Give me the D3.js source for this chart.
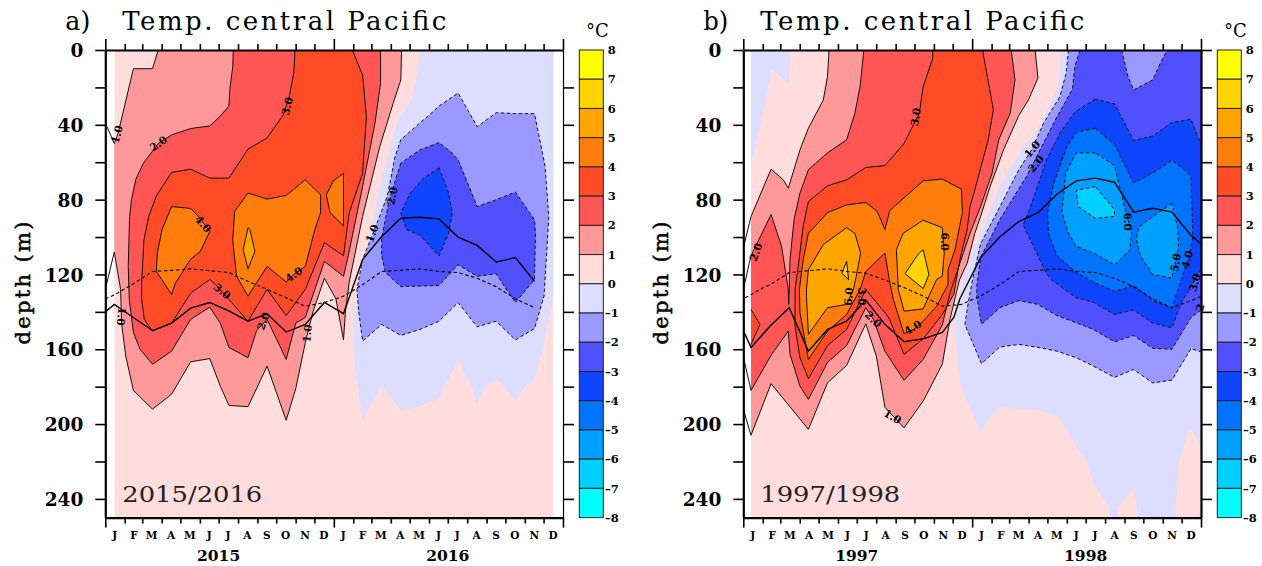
<!DOCTYPE html>
<html><head><meta charset="utf-8">
<script src="https://cdn.jsdelivr.net/npm/d3@7"></script>
<style>html,body{margin:0;padding:0;background:#fff}svg{display:block}</style>
</head><body><svg id="c" width="1262" height="566"></svg>
<script>
// Isotherm outlines: [month index (0 = mid Jan of first year), depth in m]
const monthLetters = ["J","F","M","A","M","J","J","A","S","O","N","D"];
const depthTicks = [0,20,40,60,80,100,120,140,160,180,200,220,240];
const colorLevels = [-8,-7,-6,-5,-4,-3,-2,-1,0,1,2,3,4,5,6,7,8];
const bandColors = ["#00FFFF","#00D0FF","#00A0FF","#0074FF","#0F45FF","#5050FF","#9999FF","#DDDDFF","#FFDDDD","#FF9999","#FF5555","#FF4B26","#FF7D0D","#FFA500","#FFD400","#FFFF00"];

// Panel a (2015/2016)
const aThermocline = [[-0.47,140],[0,136],[1,143],[2,150],[3,146],[4,138],[5,135],[6,139.5],[7,145],[8,141],[9,150.8],[10,146.7],[11,135],[12,141],[13,112],[14,99.7],[15,89.9],[16,89.4],[17,90.3],[18,100],[19,104.5],[20,113.4],[21,111],[22,123.7]];
const aClimatology = [[-0.47,133],[0,131],[1,125],[2,118.4],[3,117.8],[4,117],[5,118],[6,119],[7,123.7],[8,128],[9,132.5],[10,137],[11,135],[12,131.6],[13,125.5],[14,118.4],[15,117.8],[16,117],[17,118.4],[18,119],[19,122],[20,126.6],[21,133],[22,137.8]];
const aWarm1 = [[2.3,0],[2,10],[1,10],[0.2,44.5],[0,50],[-0.47,39],[-0.47,128],[0,108],[0.33,128],[0.38,146],[0.6,163.6],[1,182],[2,192],[3,184],[4,166.7],[5,165],[5.55,179.7],[6,190],[7,190.7],[8,169],[9,198],[9.5,181],[10,156.5],[10.4,140],[11,122],[11.6,133],[12,155],[12.1,140],[12.3,124],[13,89],[13.9,51.6],[14.6,28.5],[15,16],[15.04,0]];
const aWarm2 = [[6.23,0],[6.2,9],[6.05,21],[6,30],[5.53,35.6],[5,40.6],[4,42],[3,45.4],[2.3,50],[1.52,60.5],[1.13,69],[0.9,80],[0.8,89],[0.73,115.7],[0.78,133],[1,151],[1.35,160],[2,168],[3,161],[4,144],[5,137.5],[5.55,146],[6,159],[7,164.5],[7.45,150],[8,144],[9,165.4],[9.5,146],[10,143],[11,113],[12,121],[12.25,110],[12.6,92.6],[13,73],[13.65,39],[13.94,18],[13.94,0]];
const aWarm3 = [[9.46,0],[9.4,12],[9.16,25],[8.85,34.7],[8,47],[7,53],[6,68.5],[5,68.5],[4,63.7],[3,65.5],[2.2,78],[1.8,89],[1.55,101.5],[1.43,124.6],[1.43,133.4],[1.57,144],[2,150.3],[3,146],[4,130],[5,122.7],[5.3,125.4],[6,133.4],[7,145],[8,128],[9,142],[10,128],[11,103],[12,110],[12.3,87],[13,66],[13.2,35.6],[13,13.4],[12.46,0]];
const aWarm4Left = [[3,83.7],[4,84.7],[4.4,89],[5,97],[4.5,107.7],[4,111.8],[3.2,124.6],[3,130.7],[2.2,118.4],[2.25,108.6],[2.5,96]];
const aWarm4Mid = [[7,76.5],[8,79.7],[9,77.8],[10,69.4],[10.8,77.4],[10.8,87],[10.5,96],[10,115.7],[9.4,120],[9,124],[8,115.7],[7,131.6],[6.4,121],[6.2,101.5],[6.3,86.3]];
const aWarm4Right = [[11.1,77.4],[11.47,70],[12,66],[12,94],[11.3,87]];
const aWarm5 = [[7,95],[7.1,96],[7.36,107.7],[7,117],[6.75,106.7]];
const aCold0 = [[16,0],[15.9,10.7],[15.55,26.7],[14.9,36.5],[14.72,41],[14,69],[13.4,98],[12.8,123],[12.5,145.8],[12.6,170.8],[13,197.5],[14,179.7],[15,193],[16,190.4],[17,186.4],[17.35,178],[18,166],[18.7,179.7],[19,189.5],[19.4,180.5],[20,176],[20.5,180.5],[21,187.7],[21.5,180],[22,176],[22.4,161],[23,131.6],[23,0]];
const aCold1 = [[12.8,140],[13,155.6],[14,146.7],[15,152.6],[16,149.4],[17,145],[18,135],[19,148],[20,145],[21,155],[22,148.9],[22.5,131.6],[22.75,89],[22.55,62],[22,34],[21,34],[20,33.5],[19,41],[18,23],[17,30],[16.5,34.7],[16,39],[15,48],[14.7,57],[14.3,78],[13.7,94],[13,112],[12.7,128]];
const aCold2 = [[15,60.5],[14.4,80],[14,100.6],[14,110],[14.2,119],[15,126.5],[17,125.9],[18,114.8],[19,121],[20,119.6],[20.4,126],[21,135],[22,122.7],[22.05,98],[22,90.8],[21,76],[20,80],[19,83.7],[18,58.7],[17.6,54.3],[17,49.5],[16,53.4]];
const aCold3 = [[17,63],[16.2,68.5],[15.5,76.5],[15,87],[15.3,96],[16,99],[17,110],[17.5,98],[17.7,87],[17.5,76.5]];
const aLabels = [[0.14,45,"1.0",-75],[2.3,50,"2.0",-35],[9.05,30,"3.0",-75],[4.65,93,"4.0",50],[9.4,120,"4.0",-35],[5.65,129,"3.0",40],[7.8,145,"2.0",-70],[10.1,151.5,"1.0",-85],[0.37,142.5,"1.0",95],[14.55,78,"2.0",-80],[13.5,98,"1.0",-70]];

// Panel b (1997/1998)
const bThermocline = [[-0.4,150],[0,159],[1,147.6],[2,137.8],[3,161],[4,149.4],[5,145],[6,133.7],[7,146.7],[8,156],[9,154.4],[10,151],[10.6,143],[10.92,133],[12,111],[13,100],[14,91.7],[15,87],[16,77],[17,70],[18,68.5],[19,70.7],[20,86.7],[21,84.6],[22,86.7],[23,99],[23.56,104]];
const bClimatology = [[-0.3,132.5],[0.65,127],[1,125.5],[2,119],[3,118],[4,117],[5,118.4],[6,119.3],[7,123],[8,127],[9,131.6],[10,137],[11,136],[12,131.6],[13,125.5],[14,118.4],[15,117.8],[16,117],[17,118.4],[18,119],[19,122],[20,126.6],[21,133],[22,137.8],[23,134],[23.56,131.6]];
const bCoolCorner = [[0,0],[2.09,0],[1.95,17.8],[1.08,10.3],[0.73,28.5],[0,61.4]];
const bWarm1 = [[4.08,0],[4,14],[3.78,26.7],[3,41.8],[2.56,53.4],[1.95,73.9],[1.69,69.4],[1.05,63.7],[0,89],[-0.4,106],[-0.4,192],[0,206],[1.05,178.4],[3,202.8],[4,177.9],[5,168.6],[6,146.4],[6.55,163.6],[7,191],[8,202],[9,187.7],[10,168],[10.4,144],[10.9,122.8],[11.3,114],[11.7,98],[12,89],[12.5,73],[13.2,53.4],[14,35],[14.5,26.7],[15,15],[14.85,0]];
const bWarm2 = [[5.9,0],[5.7,19.6],[5.43,33.8],[5,48],[4,55],[3,64],[2.56,76.5],[2.25,90.8],[2.04,112],[2,128],[1.97,136],[1.95,128],[1.6,105],[1.05,88],[0,110],[-0.4,128],[-0.4,164],[0,182],[1.08,162.7],[1.95,150.3],[2.04,162.7],[2.56,179.7],[3,186.8],[4,167],[5,158],[6,137.8],[6.4,144],[7,161],[8,176.6],[9,165.4],[10,147],[10.4,130],[10.92,114],[11.45,98],[12,83.7],[12.6,66],[12.95,48],[13.55,33.8],[13.8,16],[13.6,0]];
const bWarm3 = [[9.5,0],[9.5,4.5],[9,19.6],[8.8,33.8],[8.4,41.8],[8,50],[7,61.8],[6,62.8],[5,69.4],[4,72.6],[3,81],[2.73,94],[2.47,115.7],[2.3,128],[2.3,147.6],[2.56,164.5],[3,175.7],[4,158],[5,149.4],[6,128],[7.2,143],[8,162.7],[9,154.4],[10,141.4],[10.6,130.7],[10.92,112],[11.3,96],[11.45,83.7],[11.7,74.8],[12.4,48],[12.67,32],[12.1,0]];
const bWarm3Edge = [[0,138.7],[0.47,146.7],[0,157.4]];
const bWarm4 = [[3,98],[4,87],[5,82.8],[6,81.5],[6.6,86.3],[7,96],[7.25,86],[8,79],[9,70],[10,69],[11,74.4],[11.05,87],[10.66,106.8],[10.3,117.5],[10.3,125.4],[9.7,137],[9,145],[8.5,149.4],[8,151.7],[7.44,133.4],[7.23,122.7],[7,108.6],[6,118.4],[5.7,128],[5,141.4],[4,150.3],[3,165.4],[2.56,140.5],[2.53,128],[2.73,112]];
const bWarm5Left = [[5,95],[5.43,98],[5.73,108.6],[5.5,121],[5.35,128],[5,136],[4,137.8],[3,152],[2.9,131.6],[2.9,128],[3,117.5],[3.78,104]];
const bWarm5Right = [[9,91],[10,95],[10.1,108.6],[10,121],[9.7,122.7],[9,138.4],[8,139.6],[7.7,128],[7.6,106.8],[7.95,98]];
const bWarm6Left = [[5,113],[5.1,122.8],[4.75,119.3]];
const bWarm6Right = [[9,106.8],[9.3,120],[9,127.6],[8.05,119.6],[8.75,109]];
const bCold0 = [[16.2,0],[16.1,17.8],[15.2,39],[14.25,51.6],[13,73],[12,98],[11.27,115.7],[10.66,140],[10.78,165.4],[11,181.4],[12,204.6],[12.3,199],[13,191],[14,191.8],[15,192.6],[16,196],[16.4,201],[17,212.6],[17.55,219.7],[17.9,232],[18.7,243.7],[18.75,250],[19.16,250],[19.16,244.6],[20,234.3],[20.25,250],[22.2,250],[22.2,243.7],[22.37,219.7],[22.95,202],[23.56,211.7],[23.56,245.5],[23.2,250],[23.56,250],[23.56,0]];
const bCold1 = [[16.6,0],[16.47,12.5],[16.15,24.9],[15.3,39],[14.67,53.4],[14,64],[13,84],[12,103.6],[11.58,122.8],[11.36,135],[11.18,146.7],[12.05,167.7],[13,158.8],[14,157.4],[15,159],[16,161],[17,164.5],[17.9,169],[19,175],[20,170.8],[21,178],[22,176.5],[23,159.7],[23.56,161.5],[23.56,0]];
const bCold2 = [[17.2,0],[16.93,8.9],[16.8,21],[16,35.6],[14.85,58.7],[14.4,67.6],[13,90.8],[12,111],[11.8,126.4],[11.8,131.6],[12.05,146.7],[13,137.8],[14,134],[15,136],[16,142],[17,145.8],[17.9,149.4],[19,156],[20,152.6],[21,159.5],[22,160],[23,143],[23.56,138.7],[23.56,0]];
const bCold2Pocket = [[19.37,0],[19.7,14],[20,21.4],[21,16],[21.4,7],[21.75,0]];
const bCold3 = [[18,26.3],[16.95,33],[16.15,44.5],[15.45,58.7],[14.5,87],[14.23,93.5],[15,110],[15.45,119.6],[15.7,122.7],[17,132.5],[17.9,134.8],[19,141.4],[20,139],[21,146],[22,148.5],[22.5,135],[23.56,116.6],[23.56,51.6],[23,37],[22,38.8],[21,46],[20,48.4],[19,28.8]];
const bCold4 = [[18,41.8],[17,44],[16.5,52],[15.8,72],[15.5,87],[15.55,98],[16,110],[17,119],[18,124.6],[19,129],[20,126],[21,134],[22,138],[22.5,122.7],[22.95,108.6],[23.1,99.7],[23,67.6],[22.8,65],[22,59],[21,65.7],[20,71],[19,50.7]];
const bCold5Left = [[18,55],[17,55],[16.45,66],[16.25,87],[16.6,98],[17,105],[18,109],[19,115],[19.8,107],[19.9,98],[19.6,87],[19.2,70],[19,61.8]];
const bCold5Right = [[22,82],[21,89],[20.25,95],[20.15,101.5],[20.35,110],[21,120],[22,122],[22.35,105],[22.3,95]];
const bCold6 = [[18,73],[17,75],[17.1,83.7],[18,90],[19,89],[19,85.4],[18.4,78]];
const bLabels = [[0.25,108,"2.0",-70],[8.6,35.8,"3.0",-80],[10.15,102.5,"6.0",90],[5.1,131.8,"6.0",-85],[5.8,131.8,"3.0",90],[6.4,144,"2.0",45],[8.45,148.3,"4.0",-30],[7.4,196,"1.0",30],[14.7,53,"1.0",-50],[14.9,60.8,"2.0",-50],[19.7,91.8,"6.0",90],[22.2,113.6,"5.0",-80],[22.8,112,"4.0",-75],[23.2,124.3,"3.0",-75],[23.47,137.7,"2",-75]];

const svg = d3.select("#c");
const serif = "'DejaVu Serif', serif";
const bandColor = d3.scaleThreshold().domain(colorLevels.slice(1,-1)).range(bandColors);

function drawPanel(o){
  const g = svg.append("g");
  const x = d3.scaleTime().domain([new Date(o.year,0,1), new Date(o.year+2,0,1)]).range([o.left,o.right]);
  const m = d3.scaleLinear().domain([0,23]).range(o.mRange);
  const y = d3.scaleLinear().domain([0,250]).range([50,517.6]);
  const clipId = "clip"+o.year;
  const mEnd = o.mEnd;
  g.append("clipPath").attr("id",clipId).append("rect")
    .attr("x",m(0)).attr("y",y(0)).attr("width",m(mEnd)-m(0)).attr("height",y(250)-y(0));
  const plot = g.append("g").attr("clip-path",`url(#${clipId})`);
  plot.append("rect").attr("x",m(0)).attr("y",y(0)).attr("width",m(mEnd)-m(0)).attr("height",y(250)-y(0)).attr("fill",bandColor(0.5));
  const line = d3.line().x(d=>m(d[0])).y(d=>y(d[1]));
  o.layers.forEach(([v,pts])=>{
    plot.append("path").attr("d",line(pts)+"Z").attr("fill",bandColor(v));
  });
  // contour strokes: everything but the stretches that run along the frame
  const onEdge=(a,b)=>(a[0]<=0&&a[0]===b[0])||(a[1]<=0&&b[1]<=0)||(a[1]>=250&&b[1]>=250)||(a[0]>=mEnd&&b[0]>=mEnd);
  o.layers.forEach(([v,pts])=>{
    if(Math.abs(v)<1) return;
    const ring=pts.concat([pts[0]]);
    let run=[];const runs=[];
    for(let i=0;i<ring.length-1;i++){
      if(onEdge(ring[i],ring[i+1])){ if(run.length) runs.push(run); run=[]; }
      else { if(!run.length) run.push(ring[i]); run.push(ring[i+1]); }
    }
    if(run.length) runs.push(run);
    runs.forEach(r=>g.append("path").attr("d",line(r)).attr("fill","none").attr("stroke","#111")
      .attr("stroke-width",1).attr("stroke-dasharray",v<0?"3.5,2.5":null));
  });
  g.append("path").attr("d",line(o.climatology)).attr("fill","none").attr("stroke","#000").attr("stroke-width",1.1).attr("stroke-dasharray","3.5,2.5");
  g.append("path").attr("d",line(o.thermocline)).attr("fill","none").attr("stroke","#000").attr("stroke-width",1.4);

  o.labels.forEach(([mi,d,t,a])=>{
    g.append("text").attr("transform",`translate(${m(mi)},${y(d)}) rotate(${a})`)
      .attr("text-anchor","middle").attr("dy","0.36em").attr("font-family",serif).attr("font-weight","bold")
      .attr("font-size",10.5).attr("fill","#000").text(t);
  });

  // axes
  const fmtD=d=>d%40===0?d:"";
  const yL=g.append("g").attr("transform",`translate(${o.left},0)`).call(d3.axisLeft(y).tickValues(depthTicks).tickSize(10).tickSizeOuter(0).tickFormat(fmtD));
  const yR=g.append("g").attr("transform",`translate(${o.right},0)`).call(d3.axisRight(y).tickValues(o.rightTicks).tickSize(11).tickSizeOuter(0).tickFormat(""));
  const months=d3.timeMonth.range(new Date(o.year,0,1),new Date(o.year+2,0,2));
  const xT=g.append("g").attr("transform","translate(0,50)").call(d3.axisTop(x).tickValues(months).tickSizeOuter(0).tickFormat(""));
  const xB=g.append("g").attr("transform","translate(0,517.6)").call(d3.axisBottom(x).tickValues(months).tickSizeOuter(0).tickFormat(""));
  const isYear=d=>d.getMonth()===0;
  xT.selectAll(".tick line").attr("y2",d=>isYear(d)?-11:-6);
  xB.selectAll(".tick line").attr("y2",d=>isYear(d)?10:6);
  [yL,yR,xT,xB].forEach(a=>{a.selectAll(".tick line").attr("stroke","#000").attr("stroke-width",1.6);
    a.select(".domain").attr("stroke","#000").attr("stroke-width",2.2);});
  yR.select(".domain").attr("stroke-width",o.rightWidth);
  yL.selectAll("text").attr("x",-22).attr("dy","0.36em").attr("font-family",serif).attr("font-weight","bold").attr("font-size",18.5).attr("fill","#000");

  months.slice(0,24).forEach((d,i)=>{
    const mid=new Date(d.getFullYear(),d.getMonth(),16);
    g.append("text").attr("x",x(mid)).attr("y",539).attr("text-anchor","middle").attr("font-family",serif)
      .attr("font-weight","bold").attr("font-size",10.5).text(monthLetters[d.getMonth()]);
  });
  [o.year,o.year+1].forEach(yr=>{
    g.append("text").attr("x",x(new Date(yr,6,1))).attr("y",561).attr("text-anchor","middle").attr("font-family",serif)
      .attr("font-weight","bold").attr("font-size",15.5).text(yr);
  });
  g.append("text").attr("transform",`translate(${o.left-75},283) rotate(-90)`).attr("text-anchor","middle")
    .attr("font-family",serif).attr("font-size",21).attr("stroke","#000").attr("stroke-width",0.5).attr("textLength",123).text("depth (m)");
  g.append("text").attr("x",o.left-40).attr("y",30).attr("font-family",serif).attr("font-size",26).attr("textLength",25).attr("lengthAdjust","spacingAndGlyphs").text(o.tag);
  g.append("text").attr("x",o.left+17).attr("y",30).attr("font-family",serif).attr("font-size",26).attr("textLength",324).attr("lengthAdjust","spacing").text("Temp. central Pacific");
  g.append("text").attr("x",o.left+17).attr("y",502).attr("font-family",serif).attr("font-size",23).attr("fill","#222").attr("textLength",140).attr("lengthAdjust","spacingAndGlyphs").text(o.period);

  // colour bar
  const cb=d3.scaleBand().domain(bandColors.slice().reverse()).range([50,517.6]);
  const cbv=d3.scaleLinear().domain([8,-8]).range([50,517.6]);
  const bx=o.right+16.3;
  g.selectAll(null).data(bandColors.slice().reverse()).join("rect").attr("x",bx).attr("width",24).attr("y",d=>cb(d)).attr("height",cb.bandwidth())
    .attr("fill",d=>d).attr("stroke","#222").attr("stroke-width",1);
  colorLevels.forEach(l=>{
    g.append("text").attr("x",l<0?bx+25.7:bx+28.4).attr("y",cbv(l)).attr("dy","0.36em").attr("font-family",serif)
      .attr("font-weight","bold").attr("font-size",11.5).text(l<0?"\u2013"+(-l):l);
  });
  g.append("text").attr("x",bx+18).attr("y",37).attr("text-anchor","middle").attr("font-family",serif).attr("font-size",18).text("\u00b0C");
}

drawPanel({year:2015,left:105.3,right:563,mRange:[114.3,553.6],mEnd:23,tag:"a)",period:"2015/2016",rightWidth:1.2,
  rightTicks:depthTicks.slice(1),thermocline:aThermocline,climatology:aClimatology,labels:aLabels,
  layers:[[-0.5,aCold0],[-1.5,aCold1],[-2.5,aCold2],[-3.5,aCold3],[1.5,aWarm1],[2.5,aWarm2],[3.5,aWarm3],[4.5,aWarm4Left],[4.5,aWarm4Mid],[4.5,aWarm4Right],[5.5,aWarm5]]});
drawPanel({year:1997,left:743.3,right:1201,mRange:[751,1191],mEnd:23.56,tag:"b)",period:"1997/1998",rightWidth:2.2,
  rightTicks:depthTicks,thermocline:bThermocline,climatology:bClimatology,labels:bLabels,
  layers:[[-0.5,bCoolCorner],[-0.5,bCold0],[-1.5,bCold1],[-2.5,bCold2],[-1.5,bCold2Pocket],[-3.5,bCold3],[-4.5,bCold4],[-5.5,bCold5Left],[-5.5,bCold5Right],[-6.5,bCold6],[1.5,bWarm1],[2.5,bWarm2],[3.5,bWarm3],[3.5,bWarm3Edge],[4.5,bWarm4],[5.5,bWarm5Left],[5.5,bWarm5Right],[6.5,bWarm6Left],[6.5,bWarm6Right]]});
</script></body></html>
